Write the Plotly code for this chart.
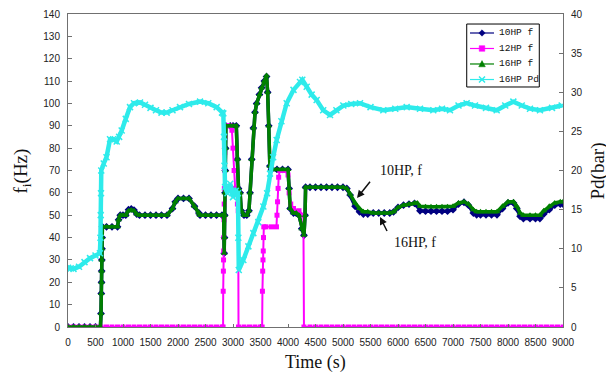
import plotly.graph_objects as go

# ---- 10HP f (blue) ----
t_10 = [0, 100, 200, 300, 400, 500, 590, 600, 605, 610, 612, 615, 618, 620, 625, 700, 800, 900, 920, 950,
        1000, 1050, 1100, 1150, 1200, 1250, 1300, 1400, 1500, 1600, 1700, 1800, 1900, 1950, 2000, 2100, 2200,
        2300, 2380, 2400, 2500, 2600, 2700, 2800, 2830, 2840, 2845, 2850, 2855, 2860, 2865, 2870, 2950, 3000,
        3060, 3080, 3100, 3130, 3150, 3200, 3250, 3290, 3310, 3340, 3370, 3400, 3430, 3480, 3520, 3570, 3610,
        3630, 3650, 3670, 3700, 3800, 3900, 4000, 4020, 4040, 4100, 4150, 4200, 4250, 4290, 4310, 4320, 4400,
        4500, 4600, 4700, 4800, 4900, 5000, 5070, 5130, 5220, 5300, 5370, 5450, 5550, 5650, 5750, 5850, 5920,
        6000, 6100, 6200, 6300, 6350, 6400, 6500, 6600, 6700, 6800, 6900, 7000, 7100, 7200, 7280, 7370, 7430,
        7500, 7600, 7700, 7800, 7900, 8000, 8100, 8160, 8220, 8280, 8400, 8500, 8580, 8650, 8750, 8850, 8950, 9000]
f_10 = [0, 0, 0, 0, 0, 0, 0, 6, 15, 20, 25, 30, 35, 40, 44.8, 44.8, 44.8, 44.8, 48, 50,
        50, 50, 52.5, 52.8, 52.3, 50.5, 50, 50, 50, 50, 50, 50, 53, 56, 57.5, 57.5, 57.5,
        54, 51, 50, 50, 50, 50, 50, 50, 33, 40, 50, 60, 70, 80, 90, 90, 90,
        90, 75, 62, 60, 52, 50, 50, 52, 60, 75, 89, 96, 100, 104, 107, 110, 112,
        105, 90, 72, 70.5, 70.5, 70.5, 70.5, 62, 53, 51, 51, 50, 44, 41, 50, 62.5, 62.5,
        62.5, 62.5, 62.5, 62.5, 62.5, 62.5, 62, 59, 54, 51.5, 50.5, 50.5, 51, 51, 51, 51, 51.5,
        53.5, 54.5, 55, 55.3, 54.5, 52, 51.8, 51.8, 51.8, 51.8, 51.8, 52.5, 55, 55.8, 54.5, 51, 50.2,
        50.2, 50.2, 50.2, 50.2, 53, 55.5, 55.5, 53, 49.5, 48.5, 48.5, 48.5, 48.5, 50.5, 52.5, 54.5, 55, 55]

# ---- 12HP f (magenta) ----
t_12 = [0, 100, 200, 300, 400, 500, 600, 700, 800, 900, 1000, 1100, 1200, 1300, 1400, 1500, 1600, 1700, 1800,
        1900, 2000, 2100, 2200, 2300, 2400, 2500, 2600, 2700, 2800, 2820, 2822, 2825, 2828, 2830, 2833, 2836,
        2840, 2843, 2846, 2850, 2855, 2860, 2900, 2950, 2980, 3000, 3020, 3040, 3060, 3080, 3095, 3100, 3200,
        3300, 3400, 3500, 3530, 3535, 3540, 3545, 3550, 3555, 3560, 3600, 3700, 3790, 3800, 3810, 3820, 3830,
        3850, 3900, 3950, 4000, 4020, 4050, 4100, 4200, 4280, 4290, 4400, 4500, 4600, 4700, 4800, 4900, 5000,
        5100, 5200, 5300, 5400, 5500, 5600, 5700, 5800, 5900, 6000, 6100, 6200, 6300, 6400, 6500, 6600, 6700,
        6800, 6900, 7000, 7100, 7200, 7300, 7400, 7500, 7600, 7700, 7800, 7900, 8000, 8100, 8200, 8300, 8400,
        8500, 8600, 8700, 8800, 8900, 9000]
f_12 = [0] * 29 + [0, 16, 25, 30, 34, 40, 48,
        55, 62, 70, 78, 85, 90, 90, 90, 88, 80, 70, 62, 60, 55, 52, 0, 0,
        0, 0, 0, 0, 16, 25, 30, 34, 40, 44.8, 44.8, 44.8, 44.8, 50, 56, 62, 67,
        70, 70, 70, 68, 60, 55, 53, 52, 50, 0] + [0] * 47

# ---- 16HP f (green) ----
t_16 = t_10
f_16 = [0, 0, 0, 0, 0, 0, 0, 6, 15, 20, 25, 30, 35, 40, 44.8, 44.8, 44.8, 44.8, 48, 50,
        50, 50, 52, 52.3, 52, 50.5, 50, 50, 50, 50, 50, 50, 53, 56, 57.5, 57.5, 57.5,
        54, 51, 50, 50, 50, 50, 50, 50, 33, 40, 50, 60, 70, 80, 90, 90, 90,
        90, 75, 62, 60, 52, 50, 50, 52, 60, 75, 89, 96, 100, 104, 107, 110, 112.5,
        105, 90, 72, 70.5, 70.5, 70.5, 70.5, 62, 53, 51, 51, 50, 44, 41, 50, 62.5, 62.5,
        62.5, 62.5, 62.5, 62.5, 62.5, 62.5, 62, 59.5, 55.5, 53, 51.5, 51.5, 51, 51, 51, 51, 51.5,
        53.5, 54.5, 55, 55.5, 55.5, 54, 53.8, 53.8, 53.8, 53.8, 53.8, 54, 55.5, 56, 55, 52.5, 51.6,
        51.6, 51.6, 51.6, 51.6, 54, 56, 56, 54, 51, 50, 50, 50, 50, 52, 54, 55.5, 56, 56]

# ---- 16HP Pd (cyan, bar) ----
t_pd = [0, 50, 100, 200, 300, 400, 500, 580, 590, 595, 600, 605, 650, 700, 764, 820, 885, 930, 976, 1050,
        1127, 1200, 1309, 1400, 1500, 1600, 1700, 1794, 1900, 2036, 2200, 2400, 2550, 2703, 2800, 2824,
        2835, 2845, 2855, 2900, 2950, 3000, 3050, 3090, 3097, 3105, 3188, 3280, 3370, 3460, 3552, 3620,
        3673, 3730, 3794, 3880, 3976, 4100, 4218, 4260, 4340, 4430, 4521, 4640, 4764, 4880, 5006, 5150,
        5309, 5500, 5733, 5950, 6158, 6400, 6642, 6800, 6945, 7100, 7248, 7400, 7600, 7794, 7950, 8097,
        8250, 8400, 8581, 8800, 8976]
pd_16 = [7.57, 7.49, 7.43, 7.71, 8.29, 8.8, 9.14, 9.43, 11.4, 14.3, 17.1, 20.0, 20.9, 21.7, 24.0, 24.0,
         23.7, 24.3, 25.1, 26.6, 28.1, 28.6, 28.7, 28.4, 28.0, 27.7, 27.4, 27.4, 27.7, 28.1, 28.5, 28.8,
         28.6, 28.1, 27.4, 27.3, 24.3, 20.6, 17.9, 17.1, 18.3, 16.6, 17.4, 17.1, 11.4, 7.29, 8.57, 10.3,
         12.0, 13.4, 15.4, 17.1, 19.6, 21.7, 23.9, 26.3, 28.6, 30.3, 31.3, 31.6, 30.7, 29.7, 29.0, 27.7,
         27.1, 27.7, 28.3, 28.5, 28.6, 28.1, 27.7, 27.9, 28.1, 27.9, 27.7, 27.9, 27.7, 28.3, 28.6, 28.3,
         28.0, 27.7, 28.3, 28.8, 28.3, 27.9, 27.7, 28.0, 28.3]

series_names = ["10HP f", "12HP f", "16HP f", "16HP Pd"]
series_colors = ["#000080", "#FF00FF", "#008000", "#2EEBEB"]

x_ticks = list(range(0, 9001, 500))
y_ticks = list(range(0, 141, 10))
y2_ticks = list(range(0, 41, 5))

fig = go.Figure()
fig.add_trace(go.Scatter(x=t_10, y=f_10, name=series_names[0], mode="lines+markers",
                         line=dict(color=series_colors[0], width=3.5),
                         marker=dict(symbol="diamond", size=6, color=series_colors[0])))
fig.add_trace(go.Scatter(x=t_12, y=f_12, name=series_names[1], mode="lines+markers",
                         line=dict(color=series_colors[1], width=2),
                         marker=dict(symbol="square", size=5, color=series_colors[1])))
fig.add_trace(go.Scatter(x=t_16, y=f_16, name=series_names[2], mode="lines+markers",
                         line=dict(color=series_colors[2], width=3.5),
                         marker=dict(symbol="triangle-up", size=6, color=series_colors[2])))
fig.add_trace(go.Scatter(x=t_pd, y=pd_16, name=series_names[3], mode="lines+markers", yaxis="y2",
                         line=dict(color=series_colors[3], width=4.5),
                         marker=dict(symbol="x-thin", size=6, color=series_colors[3],
                                     line=dict(color=series_colors[3], width=1.5))))

tickfont = dict(family="Liberation Sans, Arial", size=10, color="#222")
axis_line = "#707070"

# ---- manual compact legend (paper coords) ----
lg_x0, lg_x1, lg_y0, lg_y1 = 0.8055, 0.9521, 0.7668, 0.968
lg_rows = [0.9393, 0.8898, 0.8403, 0.7907]
ln_x0, ln_x1, mk_x, tx_x = 0.8121, 0.8606, 0.8364, 0.8667
marker_paths = [
    "M0,3.2 L3.2,0 L0,-3.2 L-3.2,0 Z",
    "M-2.8,-2.8 L2.8,-2.8 L2.8,2.8 L-2.8,2.8 Z",
    "M-3.3,-2.8 L3.3,-2.8 L0,3.4 Z",
    "M-3,-3 L3,3 M-3,3 L3,-3",
]
shapes = [dict(type="rect", xref="paper", yref="paper", x0=lg_x0, x1=lg_x1, y0=lg_y0, y1=lg_y1,
               line=dict(color="black", width=1), fillcolor="white", layer="above")]
legend_ann = []
for name, col, yy, pth in zip(series_names, series_colors, lg_rows, marker_paths):
    shapes.append(dict(type="line", xref="paper", yref="paper", x0=ln_x0, x1=ln_x1, y0=yy, y1=yy,
                       line=dict(color=col, width=1.2), layer="above"))
    is_x = pth.startswith("M-3,-3")
    shapes.append(dict(type="path", xref="paper", yref="paper", xsizemode="pixel", ysizemode="pixel",
                       xanchor=mk_x, yanchor=yy, path=pth,
                       fillcolor=None if is_x else col,
                       line=dict(color=col, width=1.5 if is_x else 0.5), layer="above"))
    legend_ann.append(dict(text=name, xref="paper", yref="paper", x=tx_x, y=yy, xanchor="left",
                           yanchor="middle", showarrow=False,
                           font=dict(family="Liberation Mono", size=9.5, color="#111")))

title_font = dict(family="Liberation Serif", size=19, color="#111")

# page body has an 8px default margin, so the figure is 8px smaller and margins shifted
fig.update_layout(
    width=606, height=367,
    margin=dict(l=60, r=51, t=6, b=48, autoexpand=False),
    paper_bgcolor="white", plot_bgcolor="white",
    showlegend=False,
    xaxis=dict(range=[0, 9000], tickvals=x_ticks, ticktext=[str(v) for v in x_ticks],
               showline=True, linecolor=axis_line, linewidth=1, mirror=True, automargin=False,
               ticks="inside", ticklen=3, tickcolor=axis_line, showgrid=False, zeroline=False,
               tickfont=tickfont, ticklabelstandoff=6),
    yaxis=dict(range=[0, 140], tickvals=y_ticks, showline=True, linecolor=axis_line, linewidth=1,
               ticks="inside", ticklen=4, tickcolor=axis_line, showgrid=False, zeroline=False,
               automargin=False, tickfont=tickfont, ticklabelstandoff=5),
    yaxis2=dict(range=[0, 40], tickvals=y2_ticks, overlaying="y", side="right",
                showline=True, linecolor=axis_line, linewidth=1, automargin=False,
                ticks="inside", ticklen=4, tickcolor=axis_line, showgrid=False, zeroline=False,
                tickfont=tickfont, ticklabelstandoff=5),
    shapes=shapes,
    annotations=[
        dict(text="f<sub>i</sub>(Hz)", xref="paper", yref="paper", x=-0.093, y=0.50,
             xanchor="center", yanchor="middle", textangle=-90, showarrow=False, font=title_font),
        dict(text="Pd(bar)", xref="paper", yref="paper", x=1.0707, y=0.50,
             xanchor="center", yanchor="middle", textangle=-90, showarrow=False, font=title_font),
        dict(text="Time (s)", xref="paper", yref="paper", x=0.499, y=-0.112,
             xanchor="center", yanchor="middle", showarrow=False,
             font=dict(family="Liberation Serif", size=18, color="#111")),
        dict(text="10HP, f", x=6055, y=70.2, xref="x", yref="y", showarrow=False,
             font=dict(family="Liberation Serif", size=14, color="#111")),
        dict(text="16HP, f", x=6309, y=38, xref="x", yref="y", showarrow=False,
             font=dict(family="Liberation Serif", size=14, color="#111")),
        dict(text=" ", x=5255, y=57.7, xref="x", yref="y", showarrow=True, ax=16, ay=-20,
             arrowhead=2, arrowsize=1, arrowwidth=1.5, arrowcolor="#111"),
        dict(text=" ", x=5673, y=49.2, xref="x", yref="y", showarrow=True, ax=10, ay=20,
             arrowhead=2, arrowsize=1, arrowwidth=1.5, arrowcolor="#111"),
    ] + legend_ann,
)

fig.write_html("out.html")
